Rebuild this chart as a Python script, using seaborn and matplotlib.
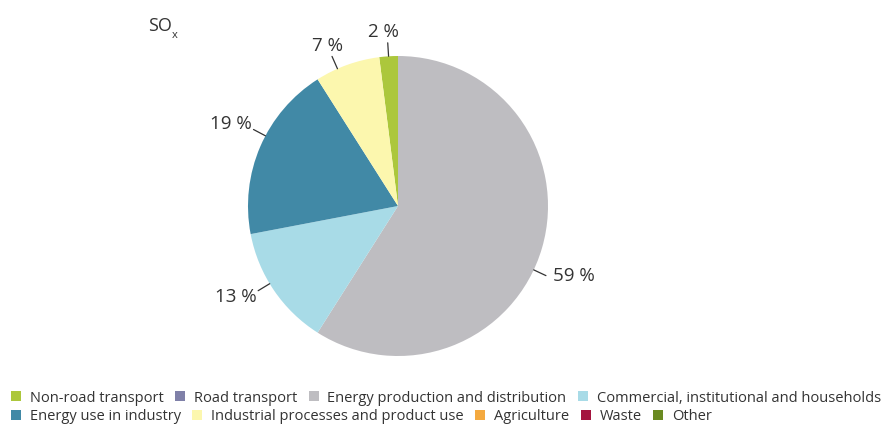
import matplotlib
matplotlib.use("Agg")
import matplotlib.pyplot as plt
import seaborn as sns
import numpy as np
from matplotlib.patches import Patch

# Emission shares of SOx by sector (%), legend order
sectors = [
    "Non-road transport",
    "Road transport",
    "Energy production and distribution",
    "Commercial, institutional and households",
    "Energy use in industry",
    "Industrial processes and product use",
    "Agriculture",
    "Waste",
    "Other",
]
shares = [2, 0, 59, 13, 19, 7, 0, 0, 0]
colors = ["#acc73c", "#7f80a8", "#bebdc1", "#a8dbe7", "#4189a6",
          "#fcf7ae", "#f4a93f", "#a4153f", "#6a8a21"]
legend_rows = [sectors[:4], sectors[4:]]
pollutant = "SO"
pollutant_sub = "x"

# small angular offsets (degrees) for the value labels, to keep them clear
label_shift = {"Non-road transport": 0, "Energy production and distribution": -9,
               "Commercial, institutional and households": -3,
               "Energy use in industry": -4.5,
               "Industrial processes and product use": 4}

sns.set_theme(style="white")
plt.rcParams["font.family"] = ["Open Sans", "DejaVu Sans"]
text_color = "#333333"

fig = plt.figure(figsize=(8.84, 4.25), dpi=100)
fig.patch.set_facecolor("white")

# pie axes: centre and radius in figure fractions
cx, cy, r_px = 398 / 884, 1 - 206 / 425, 150
w, h = 2 * r_px / 884, 2 * r_px / 425
ax = fig.add_axes([cx - w / 2, cy - h / 2, w, h])

names = [n for n, v in zip(sectors, shares) if v > 0]
vals = [v for v in shares if v > 0]
cols = [c for v, c in zip(shares, colors) if v > 0]
start = 90 + 360 * shares[0] / sum(shares)
wedges, _ = ax.pie(vals, colors=cols, startangle=start, counterclock=False,
                   radius=1.0, wedgeprops=dict(linewidth=0))
ax.set_xlim(-1, 1)
ax.set_ylim(-1, 1)
ax.set_aspect("equal")
ax.axis("off")

# percentage labels with short leader lines
for wdg, v, n in zip(wedges, vals, names):
    ang = np.deg2rad((wdg.theta1 + wdg.theta2) / 2 + label_shift.get(n, 0))
    c, s = np.cos(ang), np.sin(ang)
    x0, y0 = 1.0 * c, 1.0 * s
    x1, y1 = 1.09 * c, 1.09 * s
    ax.plot([x0, x1], [y0, y1], color="#333333", lw=0.9, clip_on=False)
    if abs(s) > 0.9:
        ha, va = "center", "bottom"
        tx, ty = x1 - 0.03, y1 + 0.01
    elif c > 0:
        ha, va = "left", "center"
        tx, ty = x1 + 0.05, y1
    else:
        ha, va = "right", "center"
        tx, ty = x1 - 0.01, y1 + 0.08 * s
    ax.text(tx, ty, f"{v} %", ha=ha, va=va, fontsize=13.5,
            color=text_color, clip_on=False)

# pollutant title with subscript
fig.text(148 / 884, 1 - 26 / 425, pollutant, fontsize=13, color=text_color,
         ha="left", va="center")
fig.text(172 / 884, 1 - 36 / 425, pollutant_sub, fontsize=8, color=text_color,
         ha="left", va="center")

# two-row legend, each row flowing left to right
color_of = dict(zip(sectors, colors))
row_y = [1 - 398 / 425, 1 - 417 / 425]
for row, y in zip(legend_rows, row_y):
    handles = [Patch(facecolor=color_of[n], edgecolor="none", label=n) for n in row]
    leg = fig.legend(handles=handles, loc="center left", ncol=len(handles),
                     bbox_to_anchor=(11 / 884, y), frameon=False, fontsize=10.5,
                     handlelength=0.68, handleheight=0.68, handletextpad=0.6,
                     columnspacing=0.8, borderpad=0, borderaxespad=0)
    for t in leg.get_texts():
        t.set_color(text_color)

fig.savefig("out.png", dpi=100, facecolor="white")
